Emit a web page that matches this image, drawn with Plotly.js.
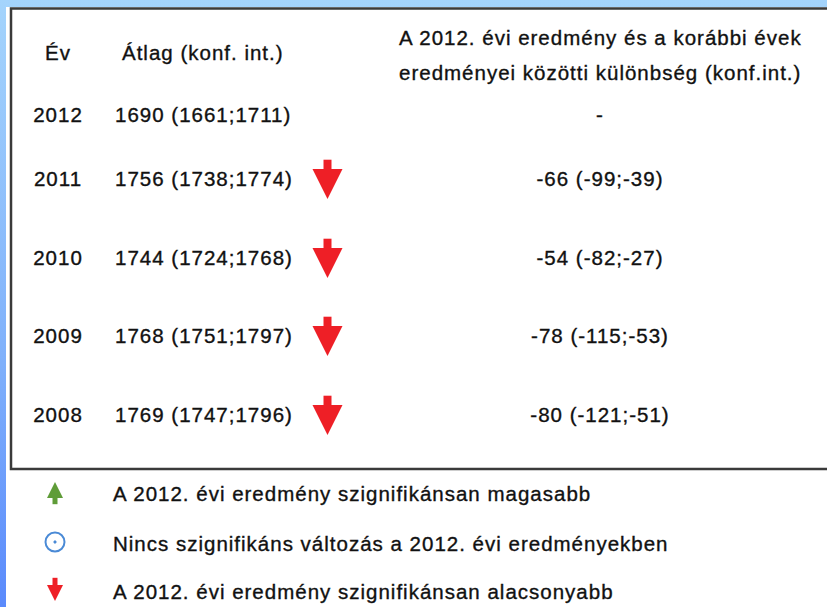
<!DOCTYPE html>
<html><head><meta charset="utf-8">
<script src="https://cdn.plot.ly/plotly-3.0.1.min.js"></script>
<style>
html,body{margin:0;padding:0;}
body{width:827px;height:607px;background:linear-gradient(to bottom,#a4d4fc 0%,#7fb0fb 60%,#5a8afc 100%);overflow:hidden;}
#chart{width:827px;height:607px;}
#chart text{letter-spacing:1px;stroke:#111111;stroke-width:0.35px;}
</style></head><body><div id="chart"></div>
<script>
// ---- data ----
const years = ['2012', '2011', '2010', '2009', '2008'];
const means = [1690, 1756, 1744, 1768, 1769];
const meanLow = [1661, 1738, 1724, 1751, 1747];
const meanHigh = [1711, 1774, 1768, 1797, 1796];
const diffs = [null, -66, -54, -78, -80];
const diffLow = [null, -99, -82, -115, -121];
const diffHigh = [null, -39, -27, -53, -51];
const signif = ['base', 'lower', 'lower', 'lower', 'lower'];
const headers = ['Év', 'Átlag (konf. int.)', 'A 2012. évi eredmény és a korábbi évek', 'eredményei közötti különbség (konf.int.)'];
const legendKeys = ['higher', 'same', 'lower'];
const legendLabels = ['A 2012. évi eredmény szignifikánsan magasabb', 'Nincs szignifikáns változás a 2012. évi eredményekben', 'A 2012. évi eredmény szignifikánsan alacsonyabb'];

// ---- layout / style constants ----
const FONT = 'Liberation Sans, Arial, sans-serif';
const FS = 20.5;
const TXT = '#111111';
const RED = '#ee1f26';
const GREEN = '#5f9c38';
const BLUE = '#4a8ad6';
const rowY = [117, 181, 260, 338, 417];
const colX = {year: 58, mean: 115, arrow: 327.5, diff: 600};
const headY = [52, 37, 72];
const legY = [496, 546, 594];
const legIconX = 55, legTextX = 113;

const traces = [];
// year column
traces.push({type: 'scatter', mode: 'text', x: years.map(() => colX.year), y: rowY,
  text: years, textposition: 'middle center', textfont: {family: FONT, size: FS, color: TXT}, hoverinfo: 'skip'});
// mean column
traces.push({type: 'scatter', mode: 'text', x: years.map(() => colX.mean), y: rowY,
  text: means.map((m, i) => m + ' (' + meanLow[i] + ';' + meanHigh[i] + ')'),
  textposition: 'middle right', textfont: {family: FONT, size: FS, color: TXT}, hoverinfo: 'skip'});
// diff column
traces.push({type: 'scatter', mode: 'text', x: years.map(() => colX.diff), y: rowY,
  text: diffs.map((d, i) => d === null ? '-' : d + ' (' + diffLow[i] + ';' + diffHigh[i] + ')'),
  textposition: 'middle center', textfont: {family: FONT, size: FS, color: TXT}, hoverinfo: 'skip'});

// significance arrows
const lowIdx = signif.map((s, i) => s === 'lower' ? i : -1).filter(i => i >= 0);
traces.push({type: 'scatter', mode: 'markers', x: lowIdx.map(() => colX.arrow), y: lowIdx.map(i => rowY[i] - 15),
  marker: {symbol: 'line-ns', size: 9, color: RED, line: {color: RED, width: 8}}, hoverinfo: 'skip'});
traces.push({type: 'scatter', mode: 'markers', x: lowIdx.map(() => colX.arrow), y: lowIdx.map(i => rowY[i] + 18),
  marker: {symbol: 'arrow-down', size: 30, color: RED, line: {width: 0}}, hoverinfo: 'skip'});

// legend icons
traces.push({type: 'scatter', mode: 'markers', x: [legIconX], y: [legY[0] + 4],
  marker: {symbol: 'line-ns', size: 6, color: GREEN, line: {color: GREEN, width: 5}}, hoverinfo: 'skip'});
traces.push({type: 'scatter', mode: 'markers', x: [legIconX], y: [legY[0] - 14],
  marker: {symbol: 'arrow-up', size: 16, color: GREEN, line: {width: 0}}, hoverinfo: 'skip'});
traces.push({type: 'scatter', mode: 'markers', x: [legIconX], y: [legY[1] - 4],
  marker: {symbol: 'circle-open-dot', size: 19, color: BLUE, line: {color: BLUE, width: 2}}, hoverinfo: 'skip'});
traces.push({type: 'scatter', mode: 'markers', x: [legIconX], y: [legY[2] - 12],
  marker: {symbol: 'line-ns', size: 6, color: RED, line: {color: RED, width: 5}}, hoverinfo: 'skip'});
traces.push({type: 'scatter', mode: 'markers', x: [legIconX], y: [legY[2] + 7],
  marker: {symbol: 'arrow-down', size: 16, color: RED, line: {width: 0}}, hoverinfo: 'skip'});
// legend labels
traces.push({type: 'scatter', mode: 'text', x: legendLabels.map(() => legTextX), y: legY,
  text: legendLabels, textposition: 'middle right', textfont: {family: FONT, size: FS, color: TXT}, hoverinfo: 'skip'});

const annotations = [
  {x: colX.year, y: headY[0], text: headers[0]},
  {x: 203, y: headY[0], text: headers[1]},
  {x: colX.diff, y: headY[1], text: headers[2]},
  {x: colX.diff, y: headY[2], text: headers[3]}
].map(a => Object.assign({xref: 'x', yref: 'y', showarrow: false, xanchor: 'center', yanchor: 'middle',
  font: {family: FONT, size: FS, color: TXT}}, a));

const layout = {
  width: 827, height: 607,
  margin: {l: 6, r: 0, t: 7, b: 0, pad: 0},
  paper_bgcolor: 'rgba(0,0,0,0)',
  plot_bgcolor: '#ffffff',
  showlegend: false,
  xaxis: {range: [6, 827], visible: false, fixedrange: true},
  yaxis: {range: [607, 7], visible: false, fixedrange: true},
  shapes: [{type: 'rect', xref: 'x', yref: 'y', x0: 11, x1: 840, y0: 8.5, y1: 469,
    line: {color: '#3a3a3a', width: 2.5}, fillcolor: 'rgba(0,0,0,0)', layer: 'above'}],
  annotations: annotations
};

Plotly.newPlot('chart', traces, layout, {staticPlot: true, displayModeBar: false});
</script></body></html>
